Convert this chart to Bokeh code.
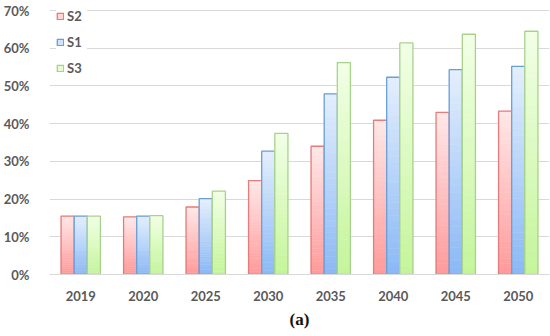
from bokeh.plotting import figure
from bokeh.models import FactorRange, FixedTicker, NumeralTickFormatter, Title, Legend, LegendItem, ColumnDataSource
from bokeh.transform import dodge
from bokeh.embed import file_html
from bokeh.resources import INLINE

years = ["2019", "2020", "2025", "2030", "2035", "2040", "2045", "2050"]
s2 = [0.155, 0.153, 0.179, 0.249, 0.340, 0.409, 0.430, 0.433]
s1 = [0.155, 0.155, 0.201, 0.327, 0.479, 0.523, 0.543, 0.552]
s3 = [0.155, 0.156, 0.221, 0.374, 0.562, 0.614, 0.637, 0.645]
y_ticks = [0, 0.1, 0.2, 0.3, 0.4, 0.5, 0.6, 0.7]

series = [
    ("S2", s2, -0.21, (255, 154, 154), (255, 232, 232), "#e57b7b"),
    ("S1", s1, 0.0, (138, 184, 245), (228, 239, 253), "#6a9fd6"),
    ("S3", s3, 0.21, (196, 245, 154), (242, 255, 230), "#a9d18e"),
]

FONT = "Lato"
FRAME_H = 270
Y_TOP = 0.7 * FRAME_H / 264  # a little headroom above the 70% line for the legend

p = figure(x_range=FactorRange(*years, range_padding=0), y_range=(0, Y_TOP),
           frame_width=500, frame_height=FRAME_H, output_backend="svg", toolbar_location=None,
           min_border_left=35, min_border_right=1, min_border_top=4, min_border_bottom=54)
p.outline_line_color = None
p.background_fill_color = "white"

N = 30
items = []
for name, vals, off, cb, ct, lc in series:
    xs, bots, tops, cols = [], [], [], []
    for yr, v in zip(years, vals):
        for k in reversed(range(N)):
            t = (k + 0.5) / N
            c = tuple(int(round(cb[i] + (ct[i] - cb[i]) * t)) for i in range(3))
            xs.append(yr)
            bots.append(v * k / N)
            tops.append(v * (k + 1) / N)
            cols.append("#%02x%02x%02x" % c)
    src = ColumnDataSource(dict(x=xs, bottom=bots, top=tops, color=cols))
    gr = p.vbar(x=dodge("x", off, range=p.x_range), bottom="bottom", top="top", width=0.21,
                source=src, fill_color="color", line_color="color", line_width=0.5)
    osrc = ColumnDataSource(dict(x=years, top=vals))
    orr = p.vbar(x=dodge("x", off, range=p.x_range), top="top", width=0.21, source=osrc,
                 fill_alpha=0, line_color=lc, line_width=1.3)
    items.append(LegendItem(label=name, renderers=[gr, orr], index=6))

legend = Legend(items=items, orientation="vertical")
legend.border_line_color = None
legend.background_fill_color = "white"
legend.background_fill_alpha = 1
legend.label_text_font = FONT
legend.label_text_font_style = "bold"
legend.label_text_font_size = "13px"
legend.label_text_color = "#595959"
legend.glyph_width = 8
legend.glyph_height = 8
legend.label_height = 12
legend.spacing = 10
legend.padding = 10
legend.margin = 0
legend.label_standoff = 3
legend.location = (7, 198)
p.add_layout(legend, "center")

p.xgrid.grid_line_color = None
p.ygrid.grid_line_color = "#d9d9d9"
p.ygrid.grid_line_width = 1
p.yaxis.ticker = FixedTicker(ticks=y_ticks)
p.yaxis.formatter = NumeralTickFormatter(format="0%")
for ax in (p.xaxis, p.yaxis):
    ax.major_tick_line_color = None
    ax.minor_tick_line_color = None
    ax.major_label_text_font = FONT
    ax.major_label_text_font_style = "bold"
    ax.major_label_text_font_size = "13px"
    ax.major_label_text_color = "#595959"
p.yaxis.axis_line_color = None
p.yaxis.major_label_standoff = 14
p.xaxis.axis_line_color = "#d9d9d9"
p.xaxis.major_label_standoff = 10

cap = Title(text="(a)", align="center", text_font="Liberation Serif", text_font_size="17px",
            text_font_style="bold", text_color="#111111", standoff=9)
p.add_layout(cap, "below")

open("out.html", "w").write(file_html(p, INLINE))
